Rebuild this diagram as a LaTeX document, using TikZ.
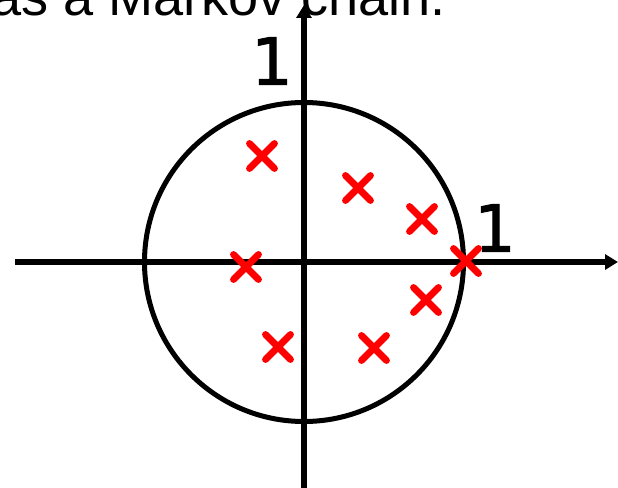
\documentclass[tikz,border=0pt]{standalone}
\usepackage{fontspec}
\setmainfont{Liberation Sans}
\newfontfamily\digitfont{DejaVu Sans}[FakeBold=1.6]
\usepackage{tikz}
\usetikzlibrary{arrows.meta,positioning}

\begin{document}
\begin{tikzpicture}[x=0.02cm,y=0.02cm, every node/.style={inner sep=0pt}]
\tikzstyle{axis}=[line width=2.85pt,-{Triangle[length=0.26cm,width=0.3cm]}]
\tikzstyle{unitcircle}=[line width=2.85pt]
\tikzstyle{pole}=[line width=3.9pt,red,line cap=round]
\tikzstyle{unitlabel}=[font=\digitfont\fontsize{37}{37}\selectfont]
\useasboundingbox (-304,-225) rectangle (314,262);

% heading, cut off at the top
\node[anchor=base west,font=\fontsize{30.8}{31}\selectfont] (title) at (-313,246) {as a Markov chain.};

% axes and unit circle
\coordinate (origin) at (0,0);
\coordinate (xmin) at (-289,0);
\coordinate (xmax) at (314,0);
\coordinate (ymin) at (0,-230);
\coordinate (ymax) at (0,257);
\draw[axis] (xmin) -- (xmax);
\draw[axis] (ymin) -- (ymax);
\draw[unitcircle] (origin) circle (159.5);

\node[unitlabel] (imone) at (-32,201) {1};
\node[unitlabel] (reone) at (191,34) {1};

% poles
\foreach \px/\py in {-42/106, 54/74, 118/43, 162/1, 122/-38, 70/-86, -26/-85, -58/-5}
  \draw[pole] (\px-12.5,\py-12.5) -- (\px+12.5,\py+12.5) (\px-12.5,\py+12.5) -- (\px+12.5,\py-12.5);
\end{tikzpicture}
\end{document}
